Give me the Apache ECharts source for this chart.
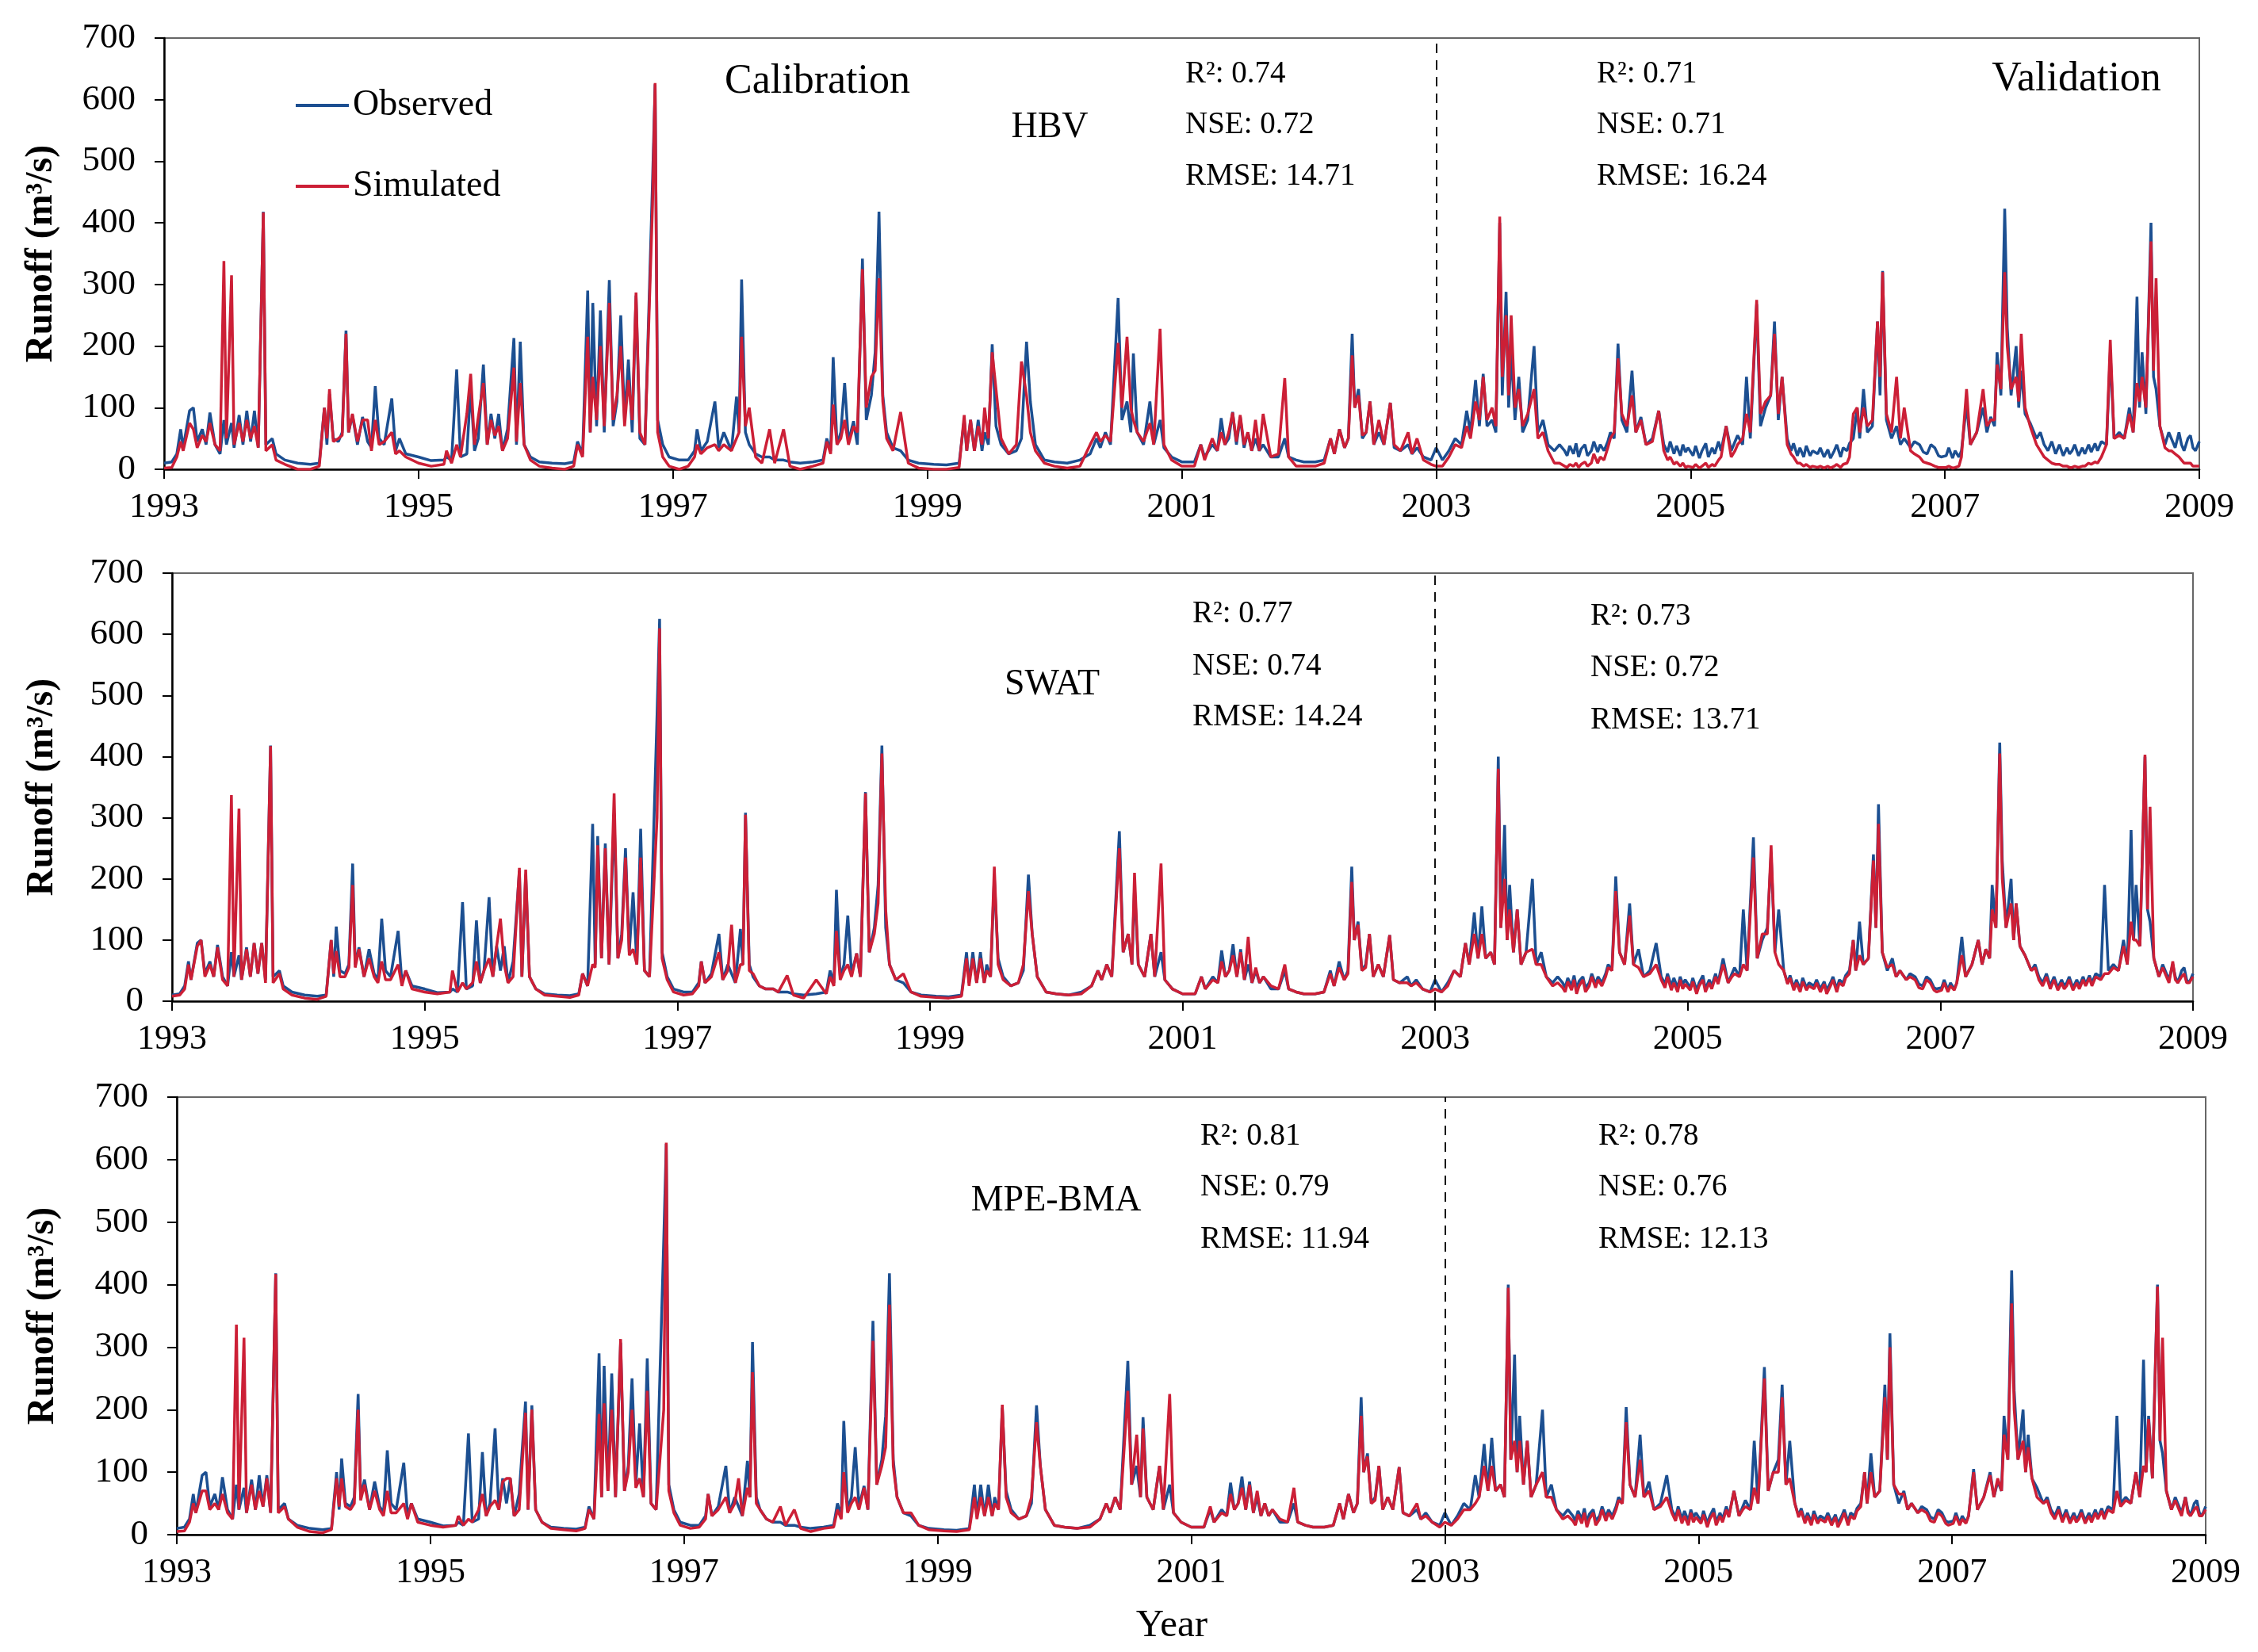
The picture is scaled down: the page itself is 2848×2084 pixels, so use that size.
<!DOCTYPE html>
<html>
<head>
<meta charset="utf-8">
<title>Runoff: observed vs simulated</title>
<script src="https://cdn.jsdelivr.net/npm/echarts@6/dist/echarts.min.js"></script>
<style>
  html, body { margin: 0; padding: 0; background: #fff; }
  #chart { width: 2848px; height: 2084px; }
</style>
</head>
<body>
<div id="chart"></div>
<script>
// time of each reading, decimal years (one line per year)
var T = [
  1993.00,1993.06,1993.10,1993.13,1993.15,1993.20,1993.23,1993.26,1993.30,1993.33,1993.36,1993.40,1993.44,1993.47,1993.49,1993.53,1993.55,1993.59,1993.62,1993.65,1993.68,1993.71,1993.74,1993.78,1993.80,1993.85,1993.88,1993.95,
  1994.05,1994.15,1994.22,1994.26,1994.28,1994.30,1994.33,1994.37,1994.40,1994.43,1994.45,1994.48,1994.52,1994.56,1994.60,1994.63,1994.66,1994.69,1994.73,1994.79,1994.82,1994.85,1994.90,
  1995.00,1995.10,1995.20,1995.22,1995.26,1995.30,1995.33,1995.38,1995.41,1995.44,1995.47,1995.51,1995.54,1995.57,1995.60,1995.63,1995.66,1995.70,1995.75,1995.77,1995.80,1995.83,1995.88,1995.95,
  1996.05,1996.15,1996.22,1996.25,1996.29,1996.33,1996.35,1996.37,1996.40,1996.43,1996.46,1996.50,1996.53,1996.56,1996.59,1996.62,1996.65,1996.68,1996.71,1996.74,1996.78,1996.84,1996.86,1996.88,1996.92,1996.97,
  1997.05,1997.12,1997.17,1997.19,1997.22,1997.27,1997.33,1997.36,1997.40,1997.43,1997.46,1997.50,1997.52,1997.54,1997.57,1997.60,1997.65,1997.70,1997.76,1997.80,1997.87,1997.92,
  1998.00,1998.10,1998.18,1998.21,1998.24,1998.26,1998.29,1998.32,1998.35,1998.38,1998.42,1998.45,1998.49,1998.52,1998.56,1998.59,1998.62,1998.65,1998.68,1998.73,1998.79,1998.85,1998.93,
  1999.05,1999.15,1999.25,1999.29,1999.31,1999.34,1999.37,1999.40,1999.43,1999.45,1999.48,1999.51,1999.54,1999.58,1999.64,1999.70,1999.74,1999.78,1999.81,1999.85,1999.92,
  2000.00,2000.10,2000.20,2000.28,2000.33,2000.36,2000.40,2000.44,2000.50,2000.53,2000.57,2000.60,2000.62,2000.65,2000.70,2000.75,2000.78,2000.83,2000.86,2000.92,
  2001.00,2001.10,2001.15,2001.18,2001.24,2001.28,2001.31,2001.34,2001.37,2001.40,2001.43,2001.46,2001.49,2001.52,2001.55,2001.58,2001.61,2001.64,2001.70,2001.76,2001.81,2001.84,2001.90,2001.96,
  2002.05,2002.12,2002.17,2002.20,2002.24,2002.28,2002.31,2002.34,2002.36,2002.39,2002.42,2002.45,2002.48,2002.51,2002.55,2002.59,2002.64,2002.67,2002.72,2002.78,2002.81,2002.85,2002.90,2002.96,
  2003.00,2003.05,2003.10,2003.15,2003.20,2003.24,2003.27,2003.31,2003.34,2003.37,2003.40,2003.44,2003.47,2003.50,2003.52,2003.55,2003.57,2003.59,2003.62,2003.65,2003.68,2003.72,2003.77,2003.80,2003.84,2003.88,2003.93,2003.97,
  2004.01,2004.03,2004.05,2004.08,2004.10,2004.12,2004.14,2004.17,2004.19,2004.22,2004.24,2004.27,2004.29,2004.32,2004.35,2004.37,2004.40,2004.43,2004.46,2004.50,2004.54,2004.57,2004.61,2004.65,2004.70,2004.75,2004.79,2004.82,2004.84,2004.87,2004.89,2004.92,2004.94,2004.96,2004.98,
  2005.02,2005.04,2005.07,2005.09,2005.12,2005.14,2005.17,2005.19,2005.22,2005.24,2005.28,2005.32,2005.35,2005.37,2005.41,2005.44,2005.47,2005.52,2005.55,2005.59,2005.63,2005.66,2005.69,2005.72,2005.76,2005.79,2005.81,2005.84,2005.86,2005.89,2005.91,2005.94,2005.96,
  2006.00,2006.02,2006.05,2006.08,2006.10,2006.13,2006.15,2006.18,2006.20,2006.23,2006.25,2006.28,2006.31,2006.33,2006.36,2006.39,2006.43,2006.47,2006.49,2006.51,2006.54,2006.58,2006.62,2006.65,2006.68,2006.73,2006.76,2006.80,2006.83,2006.86,2006.89,2006.92,2006.95,2006.97,
  2007.01,2007.03,2007.06,2007.08,2007.11,2007.13,2007.17,2007.20,2007.25,2007.30,2007.33,2007.36,2007.39,2007.41,2007.44,2007.47,2007.49,2007.52,2007.56,2007.58,2007.60,2007.63,2007.67,2007.72,2007.75,2007.78,2007.81,2007.84,2007.87,2007.90,2007.93,2007.96,2007.98,
  2008.00,2008.02,2008.05,2008.08,2008.10,2008.13,2008.15,2008.18,2008.20,2008.23,2008.27,2008.30,2008.33,2008.37,2008.41,2008.45,2008.48,2008.51,2008.53,2008.55,2008.58,2008.62,2008.64,2008.66,2008.69,2008.73,2008.76,2008.78,2008.81,2008.84,2008.86,2008.88,2008.91,2008.93,2008.95,2008.97,2009.00
];

// observed runoff (m3/s), same in all three panels
var OBS = [
  10,12,25,65,35,95,100,45,65,40,92,40,25,80,40,75,35,88,40,95,45,95,35,418,40,50,25,15,
  10,8,10,100,40,122,50,45,60,225,60,88,40,85,45,35,135,50,40,115,30,50,25,
  20,14,15,20,15,162,20,25,132,30,50,170,40,90,50,90,30,65,213,40,207,40,20,12,
  10,9,12,45,25,290,60,270,70,258,60,307,70,110,250,80,178,60,282,50,40,470,625,80,40,20,
  15,15,30,65,30,45,110,35,60,45,30,118,60,308,60,40,25,20,20,15,15,12,
  10,12,15,50,30,182,40,60,140,45,78,40,342,80,120,190,418,120,60,35,30,15,10,
  8,7,10,80,30,80,30,80,30,60,40,203,70,40,25,30,50,207,110,40,15,
  12,10,15,25,50,35,60,40,278,80,110,60,188,60,40,110,40,80,35,20,
  12,12,40,20,40,30,83,40,50,93,40,85,35,60,30,50,30,40,20,20,50,20,15,12,
  12,15,50,25,65,35,50,220,100,130,50,60,110,40,60,40,108,35,30,40,25,35,20,15,
  35,15,30,50,40,95,60,145,70,155,70,80,60,400,120,288,100,190,80,150,60,80,200,60,80,40,30,40,
  30,22,38,25,42,20,33,40,22,30,45,28,40,30,45,60,50,204,80,60,160,60,85,40,50,95,40,28,45,25,38,22,40,28,35,
  22,38,18,30,42,20,35,25,45,30,70,30,45,55,40,150,50,268,70,100,120,240,80,150,50,30,42,22,35,20,38,22,30,
  25,35,20,32,18,30,40,20,35,30,42,50,100,50,130,60,70,240,120,322,80,50,70,40,50,35,45,40,28,25,40,35,22,20,
  22,35,18,30,20,30,105,40,60,100,60,85,70,190,120,423,230,120,200,100,160,90,75,50,60,40,30,45,25,40,22,35,25,
  30,40,22,35,25,40,28,42,30,45,40,190,50,60,50,100,60,280,100,190,90,400,150,130,70,40,60,50,35,60,40,30,50,55,35,30,45
];

// simulated runoff, HBV
var HBV = [
  2,3,20,45,30,75,65,35,55,45,75,40,30,338,50,315,40,75,45,80,50,70,35,417,30,40,15,8,
  0,0,5,100,50,130,45,50,55,220,60,90,45,80,80,30,80,40,45,60,25,30,20,
  10,5,8,30,10,40,20,90,155,40,85,140,40,80,55,70,30,50,165,45,140,40,15,5,
  2,0,5,40,20,215,60,150,80,200,70,270,80,120,200,70,145,80,287,60,40,430,627,60,20,5,
  0,5,20,40,25,35,40,30,40,35,30,50,60,215,70,100,20,10,65,10,65,5,
  0,5,10,45,25,105,40,50,80,40,70,60,325,100,150,160,310,110,50,30,93,10,2,
  0,0,3,88,30,80,30,70,40,100,50,190,130,50,25,40,175,120,60,30,10,
  5,2,5,40,60,45,55,45,205,100,215,100,80,60,45,75,40,228,40,15,
  5,5,40,15,50,30,60,40,60,92,45,88,40,60,30,80,30,90,20,25,148,20,5,5,
  5,10,50,25,65,35,50,185,100,120,55,60,110,40,80,40,108,40,30,60,25,50,15,8,
  5,5,20,40,35,70,50,110,80,150,80,100,70,410,150,250,120,250,100,130,70,90,130,50,60,30,10,10,
  5,3,8,5,10,3,8,12,5,10,25,10,20,15,35,50,60,180,90,70,120,60,80,40,45,95,30,15,20,8,12,5,10,3,5,
  3,8,2,5,10,3,8,5,15,20,70,20,30,40,50,90,60,275,90,110,120,220,90,150,40,25,20,10,10,5,8,3,5,
  3,5,2,5,2,5,8,3,8,10,20,90,100,60,100,70,80,240,150,320,90,60,150,50,100,30,25,20,12,10,8,5,3,3,
  3,5,2,3,5,20,130,40,60,130,70,80,80,170,130,320,200,130,150,110,220,100,70,40,30,20,15,10,8,8,5,5,3,
  3,5,3,5,5,10,8,12,10,20,40,210,50,55,50,90,60,140,110,150,100,370,160,310,70,35,30,30,25,20,15,10,10,10,5,5,5
];

// simulated runoff, SWAT
var SWAT = [
  8,10,20,60,35,90,100,40,60,40,88,35,25,337,40,315,35,85,40,95,45,95,30,417,30,45,20,10,
  5,3,8,100,45,82,40,40,55,190,55,85,40,70,40,30,65,35,35,60,25,50,20,
  15,12,15,50,15,30,20,30,65,30,50,70,40,90,135,60,30,40,218,40,215,40,20,10,
  8,6,10,45,25,60,55,255,70,250,60,340,70,100,235,75,85,60,235,50,40,300,610,70,35,15,
  10,12,25,65,30,40,80,35,50,125,30,60,60,305,50,45,25,20,20,15,42,10,
  5,35,12,40,25,115,35,50,60,40,78,40,340,80,110,160,405,150,60,35,45,15,8,
  6,5,8,70,25,70,30,70,30,50,40,220,60,35,25,30,60,180,110,40,15,
  12,10,12,25,50,35,60,40,250,80,110,60,210,60,40,110,40,225,35,20,
  12,12,40,20,35,30,65,40,50,75,40,80,35,105,30,55,30,40,25,20,60,20,15,12,
  12,15,45,25,55,35,45,195,100,125,50,55,110,40,60,40,108,35,30,30,25,30,20,15,
  20,15,25,50,40,95,60,110,70,110,70,80,60,380,120,200,100,150,80,150,60,80,85,60,60,40,25,30,
  22,15,32,18,35,12,25,35,15,25,40,22,35,25,40,55,50,180,80,60,140,60,55,40,45,60,35,22,40,18,30,15,35,20,28,
  18,32,12,25,35,15,30,20,40,28,60,30,40,45,40,60,50,235,70,110,110,255,80,60,50,28,38,18,30,15,32,18,25,
  20,30,15,28,12,25,35,15,30,25,38,45,100,50,75,60,70,230,120,290,80,55,60,40,50,35,40,35,22,20,35,30,18,15,
  18,30,15,25,18,30,75,40,60,100,60,85,70,150,120,405,200,120,160,100,160,90,75,50,55,35,25,40,20,35,18,30,20,
  25,35,18,30,20,35,25,38,25,40,35,45,45,55,50,90,60,130,100,100,90,403,150,318,70,40,55,45,30,65,35,30,40,45,30,30,40
];

// simulated runoff, MPE-BMA
var MPE = [
  5,6,20,50,35,70,70,40,50,40,65,35,25,336,40,315,35,80,40,70,45,90,35,417,35,45,25,12,
  5,3,8,90,45,90,45,40,50,200,55,80,40,70,40,30,70,35,35,50,25,50,20,
  15,12,15,30,15,25,20,40,65,30,45,55,40,85,90,90,30,40,195,40,200,40,20,10,
  8,6,10,40,25,193,60,210,70,200,60,313,70,100,200,75,90,60,230,50,40,200,627,70,35,15,
  10,12,25,65,30,40,60,35,50,90,30,75,60,260,50,40,25,20,45,15,40,10,
  5,10,12,40,25,100,35,50,60,40,75,40,310,80,110,140,368,110,60,35,35,15,8,
  6,5,8,60,25,60,30,60,30,50,40,208,60,35,25,30,60,180,110,40,15,
  12,10,12,25,50,35,60,40,230,80,160,60,170,60,40,110,40,225,35,20,
  12,12,45,20,35,30,65,40,50,75,40,80,35,70,30,50,30,40,25,20,75,20,15,12,
  12,15,50,25,65,35,50,190,100,125,50,55,110,40,60,40,108,35,30,50,25,30,20,12,
  20,15,25,40,40,50,60,110,70,110,70,80,60,395,120,150,100,150,80,150,60,80,100,60,60,40,25,30,
  22,15,32,18,35,12,25,35,15,25,40,22,35,25,40,55,50,180,80,60,120,60,70,40,45,60,35,22,40,18,30,15,35,20,28,
  18,32,12,25,35,15,30,20,40,28,70,30,40,45,40,75,50,250,70,100,100,220,80,90,50,28,38,18,30,15,32,18,25,
  20,30,15,28,12,25,35,15,30,25,38,45,100,50,100,60,70,220,120,300,80,65,65,40,50,35,40,35,22,20,35,30,18,15,
  18,30,15,25,18,30,100,40,60,95,60,90,70,160,120,370,200,120,150,100,140,90,60,50,55,35,25,40,20,35,18,30,20,
  25,35,18,30,20,35,25,38,25,40,35,70,45,55,50,100,60,110,100,185,90,397,150,315,70,40,55,45,30,60,35,30,40,45,30,30,40
];

var MODELS = ['HBV', 'SWAT', 'MPE-BMA'];
var CAL_R2 = [0.74, 0.77, 0.81];
var CAL_NSE = [0.72, 0.74, 0.79];
var CAL_RMSE = [14.71, 14.24, 11.94];
var VAL_R2 = [0.71, 0.73, 0.78];
var VAL_NSE = [0.71, 0.72, 0.76];
var VAL_RMSE = [16.24, 13.71, 12.13];
var START_YEAR = 1993;
var SPLIT_YEAR = 2003;

[OBS, HBV, SWAT, MPE].forEach(function (a, k) {
  if (a.length !== T.length) console.error('length mismatch in series ' + k + ': ' + a.length + ' vs ' + T.length);
});

var FONT = '"Liberation Serif", "Times New Roman", serif';
var BLUE = '#1c4f91';
var RED = '#cc1f36';

// panel layout (pixels)
var panels = [
  { sim: HBV,  grid: { left: 207, top: 48,   width: 2567, height: 544 }, nameGap: 130, label: [1324, 161], calX: 1495, valX: 2014, rowY: [94, 158, 223] },
  { sim: SWAT, grid: { left: 217, top: 723,  width: 2549, height: 540 }, nameGap: 139, label: [1327, 864], calX: 1504, valX: 2006, rowY: [775, 841, 905], valRowY: [778, 843, 909] },
  { sim: MPE,  grid: { left: 223, top: 1384, width: 2559, height: 552 }, nameGap: 144, label: [1332, 1515], calX: 1514, valX: 2016, rowY: [1434, 1498, 1564] }
];

function toPairs(vals) {
  return T.map(function (t, i) { return [t - START_YEAR, vals[i]]; });
}

function txt(x, y, s, size, align) {
  return {
    type: 'text', x: x, y: y, silent: true,
    style: {
      text: s, fill: '#000', font: size + 'px ' + FONT,
      align: align || 'left', verticalAlign: 'middle',
      textAlign: align || 'left', textVerticalAlign: 'middle'
    }
  };
}

var grids = [], xAxes = [], yAxes = [], series = [], graphics = [];

panels.forEach(function (p, i) {
  grids.push(Object.assign({ show: true, borderColor: '#666', borderWidth: 2, containLabel: false }, p.grid));

  xAxes.push({
    gridIndex: i, type: 'value', min: 0, max: 16, interval: 2,
    axisLine: { show: true, onZero: false, lineStyle: { color: '#000', width: 2.5 } },
    axisTick: { show: true, inside: false, length: 12, lineStyle: { color: '#000', width: 2 } },
    axisLabel: {
      color: '#000', fontFamily: FONT, fontSize: 44, margin: 26,
      formatter: function (v) { return String(v + START_YEAR); }
    },
    splitLine: { show: false }
  });

  yAxes.push({
    gridIndex: i, type: 'value', min: 0, max: 700, interval: 100,
    name: 'Runoff (m³/s)', nameLocation: 'middle', nameGap: p.nameGap,
    nameTextStyle: { color: '#000', fontFamily: FONT, fontSize: 48, fontWeight: 'bold' },
    axisLine: { show: true, lineStyle: { color: '#000', width: 2.5 } },
    axisTick: { show: true, inside: false, length: 12, lineStyle: { color: '#000', width: 2 } },
    axisLabel: { color: '#000', fontFamily: FONT, fontSize: 45, margin: 36 },
    splitLine: { show: false }
  });

  series.push({
    name: 'Observed', type: 'line', xAxisIndex: i, yAxisIndex: i,
    data: toPairs(OBS), showSymbol: false, symbol: 'none', animation: false,
    color: BLUE, lineStyle: { color: BLUE, width: 3.5 }, z: 2
  });
  series.push({
    name: 'Simulated', type: 'line', xAxisIndex: i, yAxisIndex: i,
    data: toPairs(p.sim), showSymbol: false, symbol: 'none', animation: false,
    color: RED, lineStyle: { color: RED, width: 3.5 }, z: 3,
    markLine: {
      silent: true, symbol: ['none', 'none'], animation: false,
      label: { show: false },
      lineStyle: { color: '#111', width: 2, type: [12, 9] },
      data: [{ xAxis: SPLIT_YEAR - START_YEAR }]
    }
  });

  graphics.push(txt(p.label[0], p.label[1], MODELS[i], 46, 'center'));
  var vy = p.valRowY || p.rowY;
  graphics.push(txt(p.calX, p.rowY[0], 'R²: ' + CAL_R2[i].toFixed(2), 39));
  graphics.push(txt(p.calX, p.rowY[1], 'NSE: ' + CAL_NSE[i].toFixed(2), 39));
  graphics.push(txt(p.calX, p.rowY[2], 'RMSE: ' + CAL_RMSE[i].toFixed(2), 39));
  graphics.push(txt(p.valX, vy[0], 'R²: ' + VAL_R2[i].toFixed(2), 39));
  graphics.push(txt(p.valX, vy[1], 'NSE: ' + VAL_NSE[i].toFixed(2), 39));
  graphics.push(txt(p.valX, vy[2], 'RMSE: ' + VAL_RMSE[i].toFixed(2), 39));
});

graphics.push(txt(1031, 103, 'Calibration', 52, 'center'));
graphics.push(txt(2619, 100, 'Validation', 52, 'center'));
graphics.push(txt(1478, 2051, 'Year', 49, 'center'));

var chart = echarts.init(document.getElementById('chart'), null, { renderer: 'canvas' });
chart.setOption({
  backgroundColor: '#fff',
  animation: false,
  textStyle: { fontFamily: FONT },
  grid: grids,
  xAxis: xAxes,
  yAxis: yAxes,
  legend: {
    data: ['Observed', 'Simulated'],
    orient: 'vertical', left: 368, top: 105,
    icon: 'rect', itemWidth: 67, itemHeight: 4, itemGap: 56,
    textStyle: { color: '#000', fontFamily: FONT, fontSize: 46 },
    selectedMode: false
  },
  series: series,
  graphic: graphics
});
</script>
</body>
</html>
